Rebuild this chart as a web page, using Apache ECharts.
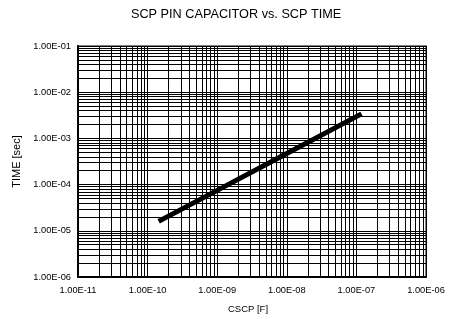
<!DOCTYPE html>
<html>
<head>
<meta charset="utf-8">
<script src="https://cdn.jsdelivr.net/npm/echarts@6/dist/echarts.min.js"></script>
<style>
html,body{margin:0;padding:0;background:#fff;}
#chart{width:451px;height:319px;}
</style>
</head>
<body>
<div id="chart"></div>
<script>
// ---- data ----
const titleText = 'SCP PIN CAPACITOR vs. SCP TIME';
const xName = 'CSCP [F]';
const yName = 'TIME [sec]';
const xTickLabels = ['1.00E-11','1.00E-10','1.00E-09','1.00E-08','1.00E-07','1.00E-06'];
const yTickLabels = ['1.00E-06','1.00E-05','1.00E-04','1.00E-03','1.00E-02','1.00E-01'];
const cscp = [1.55e-10, 1.0e-9, 1.0e-8, 1.1e-7];
const scpTime = [1.7e-5, 7.5e-5, 4.7e-4, 3.2e-3];

const xMinExp = -11, xMaxExp = -6;
const yMinExp = -6, yMaxExp = -1;

function labelFor(v, labels, minExp) {
  const e = Math.round(Math.log10(v));
  return labels[e - minExp] !== undefined ? labels[e - minExp] : '';
}
function minorValues(minExp, maxExp) {
  const out = [];
  for (let e = minExp; e < maxExp; e++) {
    for (let k = 2; k <= 9; k++) out.push(k * Math.pow(10, e));
  }
  return out;
}

const font = 'Liberation Sans, Arial, sans-serif';
const chart = echarts.init(document.getElementById('chart'), null, {renderer: 'canvas'});

const xMin = Math.pow(10, xMinExp), xMax = Math.pow(10, xMaxExp);
const yMin = Math.pow(10, yMinExp), yMax = Math.pow(10, yMaxExp);
const lineData = cscp.map((c, i) => [c, scpTime[i]]);
const minorGrid = minorValues(xMinExp, xMaxExp).map(v => ({coords: [[v, yMin], [v, yMax]]}))
  .concat(minorValues(yMinExp, yMaxExp).map(v => ({coords: [[xMin, v], [xMax, v]]})));

chart.setOption({
  animation: false,
  backgroundColor: '#fff',
  title: {
    text: titleText,
    left: 126,
    top: 3,
    textStyle: {fontFamily: font, fontSize: 12.7, fontWeight: 'normal', color: '#000'}
  },
  grid: {
    left: 78, right: 25, top: 46, bottom: 41,
    show: true, borderColor: '#808080', borderWidth: 2, backgroundColor: 'transparent'
  },
  xAxis: {
    type: 'log', logBase: 10,
    min: xMin, max: xMax,
    name: xName, nameLocation: 'middle', nameGap: 27,
    nameTextStyle: {fontFamily: font, fontSize: 9.5, color: '#000', padding: [0, 8, 0, 0]},
    axisLine: {show: true, onZero: false, lineStyle: {color: '#000', width: 2}},
    axisTick: {show: false},
    axisLabel: {
      margin: 9, fontFamily: font, fontSize: 9.3, color: '#000',
      formatter: v => labelFor(v, xTickLabels, xMinExp)
    },
    splitLine: {show: true, lineStyle: {color: '#000', width: 1}}
  },
  yAxis: {
    type: 'log', logBase: 10,
    min: yMin, max: yMax,
    name: yName, nameLocation: 'middle', nameGap: 50, nameRotate: 90,
    nameTextStyle: {fontFamily: font, fontSize: 11, color: '#000'},
    axisLine: {show: true, onZero: false, lineStyle: {color: '#000', width: 2}},
    axisTick: {show: false},
    axisLabel: {
      margin: 7, fontFamily: font, fontSize: 9.3, color: '#000',
      formatter: v => labelFor(v, yTickLabels, yMinExp)
    },
    splitLine: {show: true, lineStyle: {color: '#000', width: 1}}
  },
  series: [
    {
      type: 'lines',
      coordinateSystem: 'cartesian2d',
      silent: true,
      z: 1,
      symbol: ['none', 'none'],
      lineStyle: {color: '#000', width: 1, opacity: 1, type: 'solid'},
      data: minorGrid
    },
    {
      type: 'line',
      data: lineData,
      showSymbol: false,
      symbol: 'none',
      z: 5,
      lineStyle: {color: '#000', width: 5, cap: 'square'}
    }
  ]
});
</script>
</body>
</html>
